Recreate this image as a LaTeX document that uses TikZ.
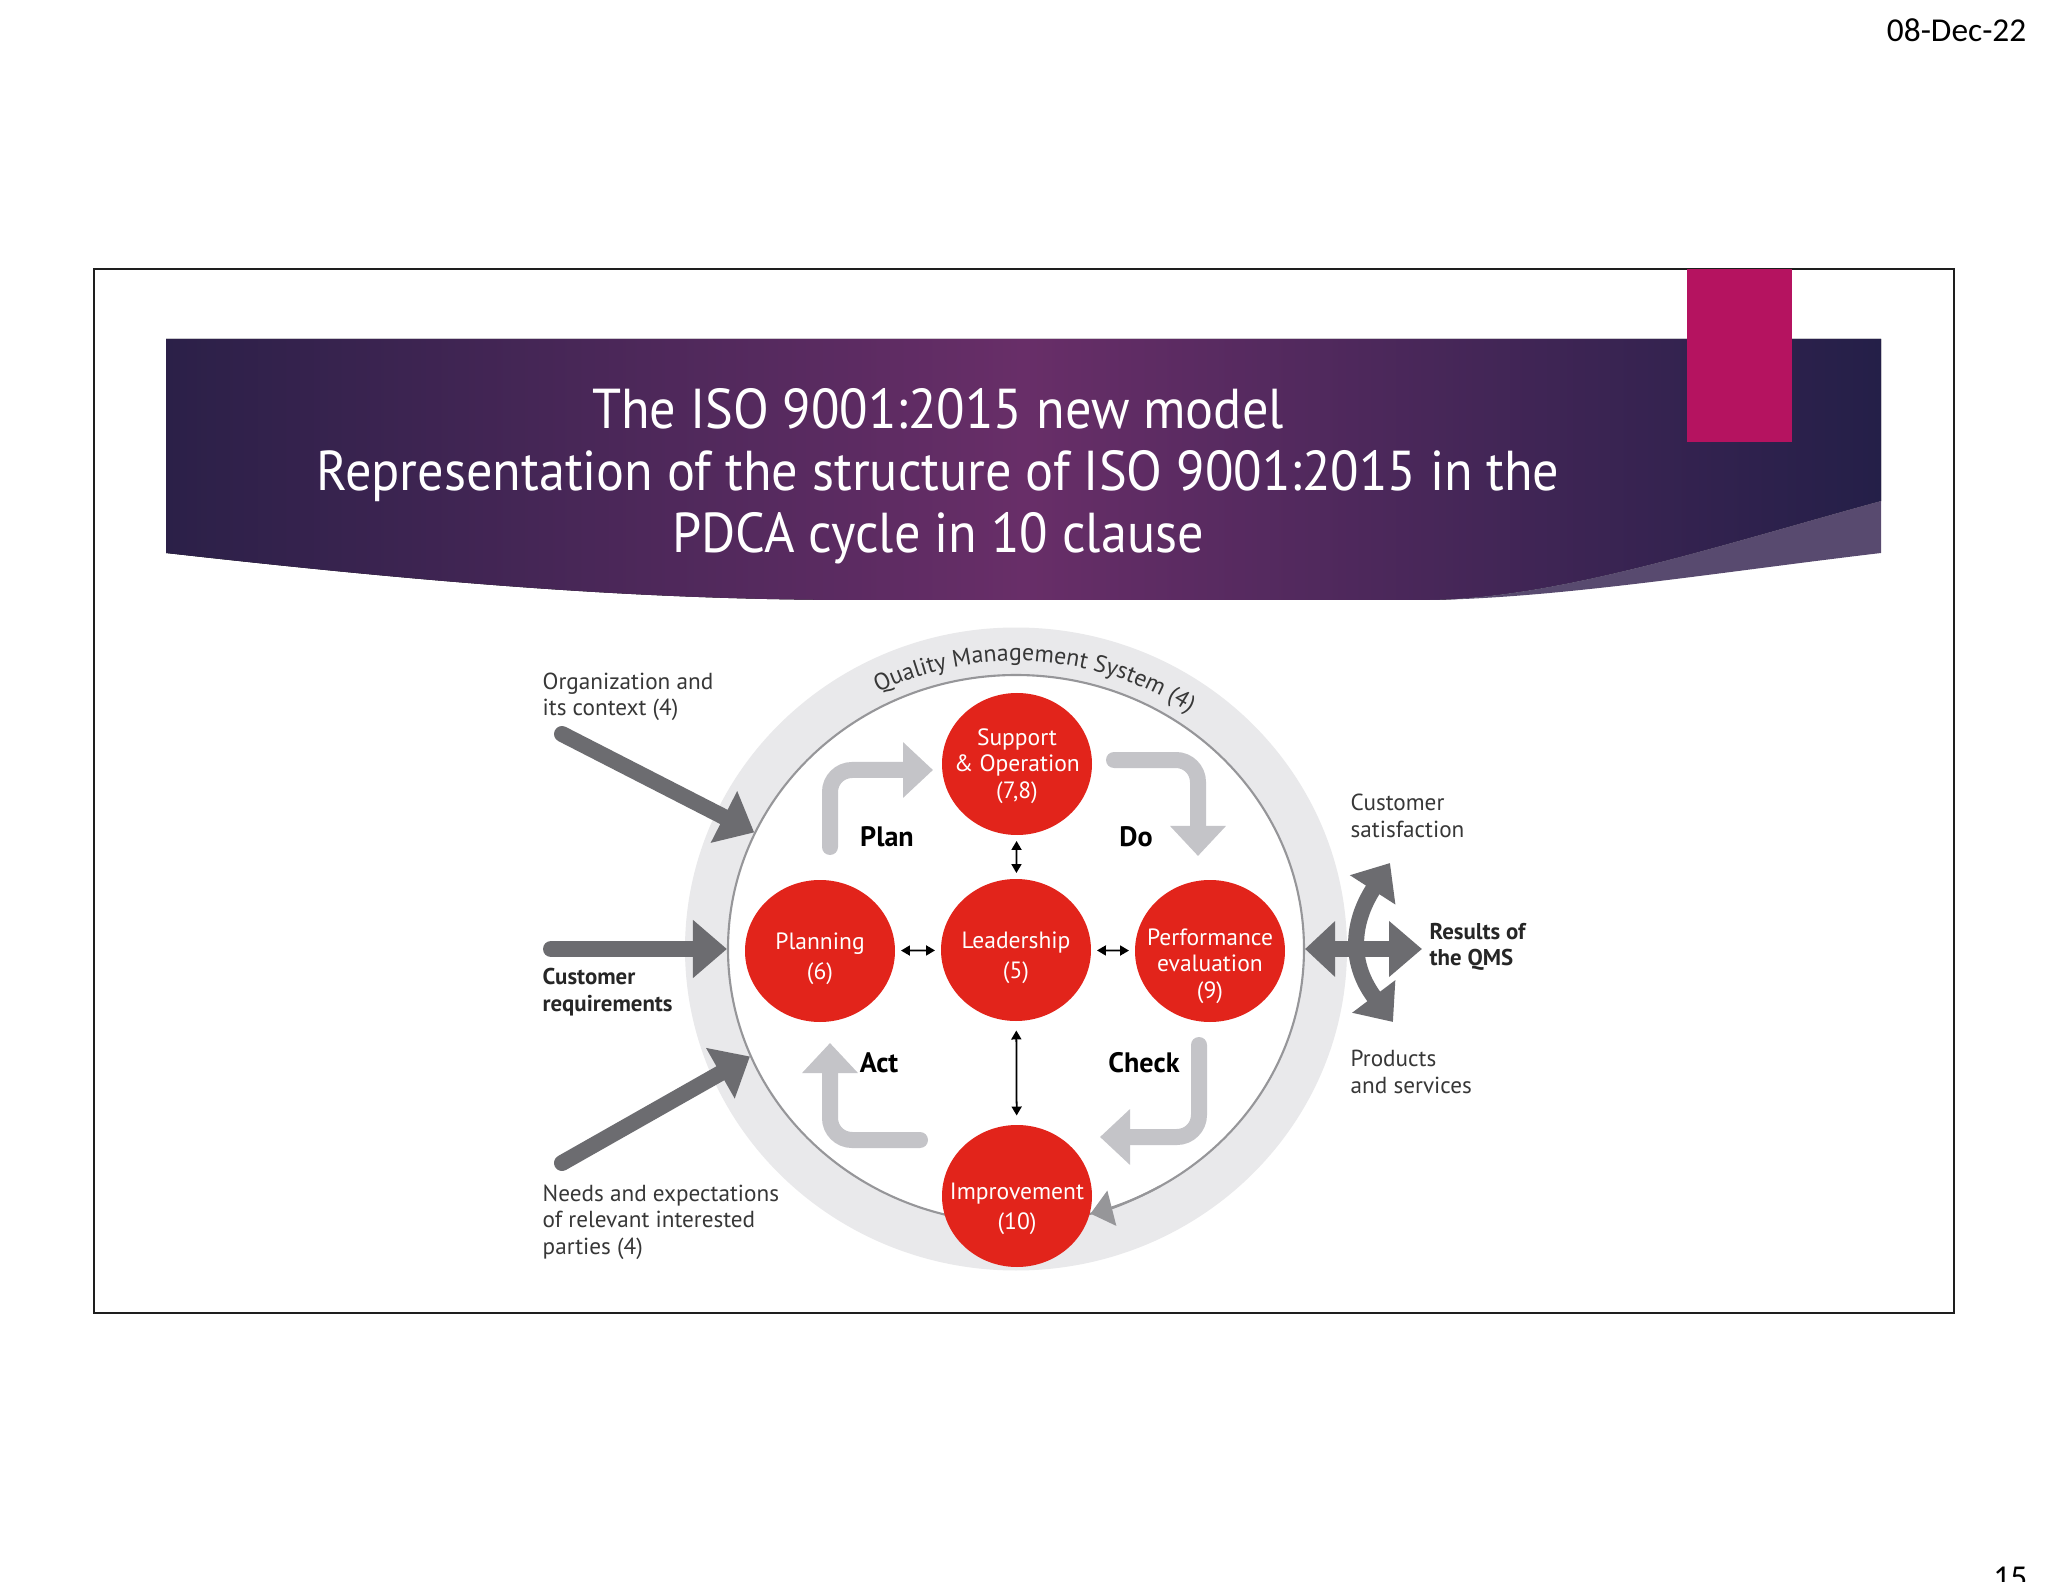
\documentclass[tikz,border=0pt]{standalone}
\usepackage{fontspec}
\setmainfont{Carlito}
\newfontfamily\titlefont[FakeStretch=0.93]{PT Sans}
\newfontfamily\diagfont{PT Sans}
\usetikzlibrary{arrows.meta,shapes.geometric,positioning,decorations.text,calc}
\definecolor{framegray}{RGB}{30,30,30}
\definecolor{bannerdark}{RGB}{43,32,72}
\definecolor{bannermid}{RGB}{104,46,104}
\definecolor{bannerright}{RGB}{36,31,72}
\definecolor{bannerband}{RGB}{88,74,111}
\definecolor{accentpink}{RGB}{181,19,96}
\definecolor{qmsred}{RGB}{226,36,27}
\definecolor{ringfill}{RGB}{233,233,235}
\definecolor{ringline}{RGB}{150,150,153}
\definecolor{pdcagray}{RGB}{196,196,200}
\definecolor{arrowgray}{RGB}{108,108,112}
\definecolor{labeltext}{RGB}{55,55,55}

\begin{document}
\begin{tikzpicture}[
    clause/.style={ellipse,fill=qmsred,minimum width=1.50cm,minimum height=1.42cm,inner sep=0pt},
    clausetext/.style={font=\diagfont\fontsize{6.7}{7.6}\selectfont,text=white,align=center,inner sep=0pt},
    sidelabel/.style={anchor=west,align=left,inner sep=0pt,
                      font=\diagfont\fontsize{6.6}{7.5}\selectfont,text=labeltext},
    boldlabel/.style={font=\diagfont\bfseries\fontsize{6.5}{7.5}\selectfont,text=black!85},
    phase/.style={font=\diagfont\bfseries\fontsize{8}{9}\selectfont,text=black},
    pdca/.style={-{Triangle[length=0.30cm,width=0.54cm]},line width=0.16cm,color=pdcagray,
                 rounded corners=0.22cm,line cap=round},
    bigarrow/.style={-{Triangle[length=0.34cm,width=0.56cm]},line width=0.16cm,color=arrowgray,line cap=round},
    link/.style={{Triangle[length=0.09cm,width=0.1cm]}-{Triangle[length=0.09cm,width=0.1cm]},
                 line width=0.5pt,black,shorten <=1.5pt,shorten >=1.5pt}
]
\useasboundingbox (0,0) rectangle (20.48,-15.82);
\fill[white] (0,0) rectangle (20.48,-15.82);
\draw[line width=0.75pt,framegray] (0.94,-2.69) rectangle (19.54,-13.13);

\fill[left color=bannerdark,right color=bannerright,middle color=bannermid]
  (1.66,-3.39) -- (18.81,-3.39) -- (18.81,-5.01)
  .. controls (17.2,-5.45) and (15.6,-5.98) .. (14.3,-6.00) -- (8.6,-6.00)
  .. controls (6.5,-6.00) and (4.5,-5.85) .. (1.66,-5.53) -- cycle;
\fill[bannerband] (18.81,-5.01) -- (18.81,-5.53)
  .. controls (17.2,-5.72) and (15.6,-5.98) .. (14.3,-6.00)
  .. controls (15.6,-5.98) and (17.2,-5.45) .. (18.81,-5.01) -- cycle;
\fill[accentpink] (16.87,-2.69) rectangle (17.92,-4.42);
\node[font=\titlefont\fontsize{16}{17.6}\selectfont,text=white,align=center] (title) at (9.38,-4.76)
  {The ISO 9001:2015 new model\\Representation of the structure of ISO 9001:2015 in the\\PDCA cycle in 10 clause};

\node[ellipse,fill=ringfill,minimum width=6.62cm,minimum height=6.43cm] (qmsout) at (10.16,-9.49) {};
\node[ellipse,draw=ringline,line width=0.6pt,fill=white,minimum width=5.76cm,minimum height=5.48cm] (qmsin) at (10.16,-9.49) {};
\path[decorate,decoration={text along path,text align=center,text color=labeltext,
      text={|\diagfont\fontsize{6.8}{7}\selectfont|Quality Management System (4)}}]
  ($(qmsin.center)+(150:3.02 and 2.88)$) arc[start angle=150,end angle=22,x radius=3.02,y radius=2.88];

\coordinate (planS) at (8.30,-8.47);
\coordinate (planE) at (9.33,-7.70);
\coordinate (doS) at (11.14,-7.60);
\coordinate (doE) at (11.98,-8.56);
\coordinate (checkS) at (11.99,-10.45);
\coordinate (checkE) at (11.00,-11.37);
\coordinate (actS) at (9.20,-11.40);
\coordinate (actE) at (8.30,-10.43);
\draw[pdca] (planS) |- (planE);
\draw[pdca] (doS) -| (doE);
\draw[pdca] (checkS) |- (checkE);
\draw[pdca] (actS) -| (actE);
\node[phase] (plan) at (8.87,-8.37) {Plan};
\node[phase] (do) at (11.36,-8.37) {Do};
\node[phase] (act) at (8.79,-10.63) {Act};
\node[phase] (check) at (11.44,-10.63) {Check};

\node[clause,label={[clausetext,yshift=-0.02cm]center:{Support\\\& Operation\\(7,8)}}] (support) at (10.17,-7.64) {};
\node[clause,label={[clausetext,yshift=-0.08cm]center:{Leadership\\[1pt](5)}}] (leader) at (10.16,-9.50) {};
\node[clause,label={[clausetext,yshift=-0.08cm]center:{Planning\\[1pt](6)}}] (planning) at (8.20,-9.51) {};
\node[clause,label={[clausetext,yshift=-0.15cm]center:{Performance\\evaluation\\(9)}}] (perform) at (12.10,-9.51) {};
\node[clause,label={[clausetext,yshift=-0.13cm]center:{Improvement\\[1pt](10)}}] (improve) at (10.17,-11.96) {};
\draw[link] (support) -- (leader);
\draw[link] (planning) -- (leader);
\draw[link] (leader) -- (perform);
\draw[link,shorten <=2.5pt,shorten >=2.5pt] (leader) -- (improve);
\draw[ringline,line width=0.6pt,-{Triangle[length=0.22cm,width=0.36cm]}]
  ($(qmsin.center)+(-60:2.88 and 2.74)$) arc[start angle=-60,end angle=-75,x radius=2.88,y radius=2.74];

\coordinate (orgS) at (5.62,-7.34);
\coordinate (custS) at (5.51,-9.49);
\coordinate (needS) at (5.62,-11.63);
\draw[bigarrow] (orgS) -- (qmsin.156);
\draw[bigarrow] (custS) -- (qmsin.west);
\draw[bigarrow] (needS) -- (qmsin.202);
\node[sidelabel] (org) at (5.42,-6.97) {Organization and\\its context (4)};
\node[sidelabel,boldlabel] (cust) at (5.42,-9.92) {Customer\\requirements};
\node[sidelabel] (needs) at (5.42,-12.22) {Needs and expectations\\of relevant interested\\parties (4)};

\coordinate (resE) at (14.22,-9.49);
\coordinate (resT) at (13.90,-8.63);
\coordinate (resB) at (13.93,-10.22);
\draw[bigarrow,{Triangle[length=0.30cm,width=0.54cm]}-{Triangle[length=0.33cm,width=0.54cm]}] (qmsin.east) -- (resE);
\draw[bigarrow,{Triangle[length=0.32cm,width=0.52cm]}-{Triangle[length=0.32cm,width=0.52cm]}]
  (resT) .. controls (13.50,-9.25) and (13.50,-9.65) .. (resB);
\node[sidelabel] (satisf) at (13.50,-8.16) {Customer\\satisfaction};
\node[sidelabel,boldlabel] (results) at (14.29,-9.47) {Results of\\the QMS};
\node[sidelabel] (products) at (13.50,-10.72) {Products\\and services};

\node[anchor=base east,inner sep=0pt,font=\fontsize{9.5}{11}\selectfont] (date) at (20.27,-0.42) {08-Dec-22};
\node[anchor=base east,inner sep=0pt,font=\fontsize{9.5}{11}\selectfont] (page) at (20.28,-15.88) {15};
\end{tikzpicture}
\end{document}
